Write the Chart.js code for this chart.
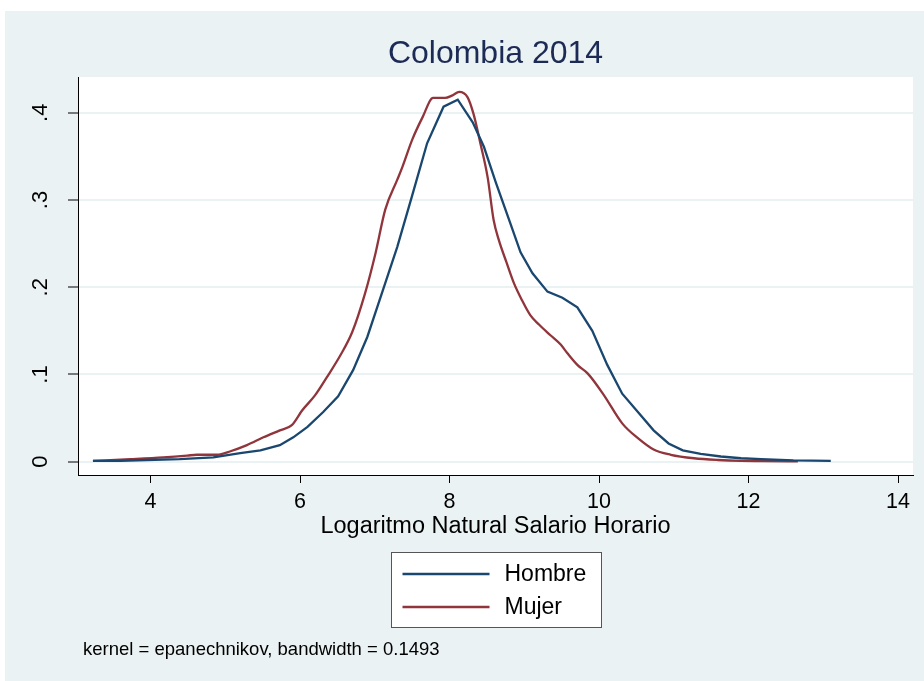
<!DOCTYPE html>
<html>
<head>
<meta charset="utf-8">
<title>Colombia 2014</title>
<script src="https://cdn.jsdelivr.net/npm/chart.js@4.4.1/dist/chart.umd.min.js"></script>
<style>
  html, body { margin: 0; padding: 0; background: #fff; }
  #wrap { width: 924px; height: 681px; position: relative; }
</style>
</head>
<body>
<div id="wrap"><canvas id="kdensity" width="924" height="681"></canvas></div>
<script>
// Kernel density, log hourly wage
const hombreX = [3.23, 3.6, 3.95, 4.39, 4.84, 5.20, 5.47, 5.73, 5.91, 6.10, 6.31, 6.51, 6.71, 6.90, 7.11, 7.30, 7.50, 7.70, 7.92, 8.11, 8.31, 8.46, 8.62, 8.79, 8.95, 9.11, 9.31, 9.51, 9.71, 9.91, 10.11, 10.31, 10.52, 10.73, 10.93, 11.12, 11.36, 11.63, 11.90, 12.17, 12.6, 13.1];
const hombreY = [0.001, 0.001, 0.002, 0.003, 0.005, 0.010, 0.013, 0.019, 0.028, 0.040, 0.057, 0.075, 0.105, 0.143, 0.197, 0.246, 0.305, 0.365, 0.407, 0.415, 0.389, 0.361, 0.320, 0.279, 0.240, 0.216, 0.195, 0.188, 0.177, 0.150, 0.111, 0.078, 0.057, 0.036, 0.021, 0.013, 0.009, 0.006, 0.004, 0.003, 0.0015, 0.001];

const mujerX = [3.23, 3.73, 4.17, 4.49, 4.62, 4.89, 5.07, 5.29, 5.51, 5.73, 5.89, 6.03, 6.20, 6.36, 6.54, 6.70, 6.87, 7.01, 7.14, 7.30, 7.37, 7.50, 7.64, 7.78, 7.94, 8.04, 8.13, 8.24, 8.32, 8.41, 8.51, 8.59, 8.66, 8.76, 8.86, 8.97, 9.08, 9.20, 9.35, 9.49, 9.58, 9.71, 9.85, 10.06, 10.31, 10.52, 10.73, 10.96, 11.27, 11.59, 11.90, 12.17, 12.66];
const mujerY = [0.001, 0.003, 0.005, 0.007, 0.008, 0.008, 0.012, 0.019, 0.028, 0.036, 0.042, 0.059, 0.076, 0.097, 0.122, 0.149, 0.193, 0.239, 0.289, 0.323, 0.338, 0.369, 0.395, 0.417, 0.417, 0.420, 0.424, 0.418, 0.399, 0.366, 0.326, 0.277, 0.254, 0.229, 0.205, 0.185, 0.168, 0.157, 0.145, 0.134, 0.124, 0.111, 0.101, 0.077, 0.044, 0.027, 0.014, 0.008, 0.004, 0.002, 0.001, 0.0008, 0.0005];

const xTickValues = [4, 6, 8, 10, 12, 14];
const yTickValues = [0, 0.1, 0.2, 0.3, 0.4];
const yTickLabels = ['0', '.1', '.2', '.3', '.4'];

const titleText = 'Colombia 2014';
const xTitle = 'Logaritmo Natural Salario Horario';
const noteText = 'kernel = epanechnikov, bandwidth = 0.1493';

const bgColor = '#EAF2F3';
const FONT = '"Liberation Sans", Arial, sans-serif';

function toPoints(xs, ys) {
  return xs.map((x, i) => ({ x: x, y: ys[i] }));
}

// background, title, y labels, legend box and note (Stata style)
const stataLook = {
  id: 'stataLook',
  beforeDraw(chart) {
    const { ctx, chartArea } = chart;
    ctx.save();
    ctx.fillStyle = bgColor;
    ctx.fillRect(5, 11, chart.width - 5, chart.height - 11);
    ctx.fillStyle = '#fff';
    ctx.fillRect(chartArea.left, chartArea.top, chartArea.right - chartArea.left, chartArea.bottom - chartArea.top);
    ctx.restore();
  },
  afterDraw(chart) {
    const { ctx, chartArea } = chart;
    const cx = (chartArea.left + chartArea.right) / 2;
    ctx.save();

    // title
    ctx.fillStyle = '#1c2a56';
    ctx.font = '32px ' + FONT;
    ctx.textAlign = 'center';
    ctx.textBaseline = 'middle';
    ctx.fillText(titleText, cx, 54);

    // rotated y tick labels
    const yScale = chart.scales.y;
    ctx.fillStyle = '#000';
    ctx.font = '22px ' + FONT;
    yTickValues.forEach((v, i) => {
      const py = yScale.getPixelForValue(v);
      ctx.save();
      ctx.translate(41, py);
      ctx.rotate(-Math.PI / 2);
      ctx.textAlign = 'center';
      ctx.textBaseline = 'middle';
      ctx.fillText(yTickLabels[i], 0, 0);
      ctx.restore();
    });

    // legend box
    const boxW = 210, boxTop = 552, boxH = 75;
    const boxLeft = Math.round(cx - boxW / 2) + 0.5;
    ctx.fillStyle = '#fff';
    ctx.fillRect(boxLeft, boxTop + 0.5, boxW, boxH);
    ctx.strokeStyle = '#555';
    ctx.lineWidth = 1;
    ctx.strokeRect(boxLeft, boxTop + 0.5, boxW, boxH);
    ctx.font = '23px ' + FONT;
    ctx.textAlign = 'left';
    ctx.textBaseline = 'middle';
    chart.data.datasets.forEach((ds, i) => {
      const ly = 574 + i * 33;
      ctx.strokeStyle = ds.borderColor;
      ctx.lineWidth = 2.5;
      ctx.beginPath();
      ctx.moveTo(boxLeft + 11, ly);
      ctx.lineTo(boxLeft + 98, ly);
      ctx.stroke();
      ctx.fillStyle = '#000';
      ctx.fillText(ds.label, boxLeft + 113, ly + 1);
    });

    // note
    ctx.font = '18.5px ' + FONT;
    ctx.fillText(noteText, 83, 650);
    ctx.restore();
  }
};

const ctx = document.getElementById('kdensity').getContext('2d');
new Chart(ctx, {
  type: 'line',
  data: {
    datasets: [
      {
        label: 'Hombre',
        data: toPoints(hombreX, hombreY),
        borderColor: '#1a476f',
        borderWidth: 2.3,
        pointRadius: 0,
        tension: 0,
        fill: false
      },
      {
        label: 'Mujer',
        data: toPoints(mujerX, mujerY),
        borderColor: '#90353b',
        borderWidth: 2.3,
        pointRadius: 0,
        cubicInterpolationMode: 'monotone',
        fill: false
      }
    ]
  },
  options: {
    responsive: false,
    animation: false,
    layout: { padding: { top: 77, right: 11, bottom: 0, left: 0 } },
    plugins: {
      legend: { display: false },
      title: { display: false },
      tooltip: { enabled: false }
    },
    scales: {
      x: {
        type: 'linear',
        min: 3.03,
        max: 14.2,
        afterBuildTicks: (axis) => { axis.ticks = xTickValues.map(v => ({ value: v })); },
        afterFit: (axis) => { axis.height = 206; },
        grid: { drawOnChartArea: false, drawTicks: true, tickLength: 8, tickColor: '#000', tickWidth: 1 },
        border: { display: true, color: '#000', width: 1 },
        ticks: { color: '#000', font: { family: FONT, size: 21.5 }, padding: 6, maxRotation: 0 },
        title: {
          display: true,
          text: xTitle,
          color: '#000',
          font: { family: FONT, size: 23.5 },
          padding: { top: 0, bottom: 140 }
        }
      },
      y: {
        type: 'linear',
        min: -0.0152,
        max: 0.441,
        afterBuildTicks: (axis) => { axis.ticks = yTickValues.map(v => ({ value: v })); },
        afterFit: (axis) => { axis.width = 78; },
        grid: { color: bgColor, lineWidth: 2, drawTicks: true, tickLength: 10, tickColor: '#000', tickWidth: 1 },
        border: { display: true, color: '#000', width: 1 },
        ticks: { display: false }
      }
    }
  },
  plugins: [stataLook]
});
</script>
</body>
</html>
